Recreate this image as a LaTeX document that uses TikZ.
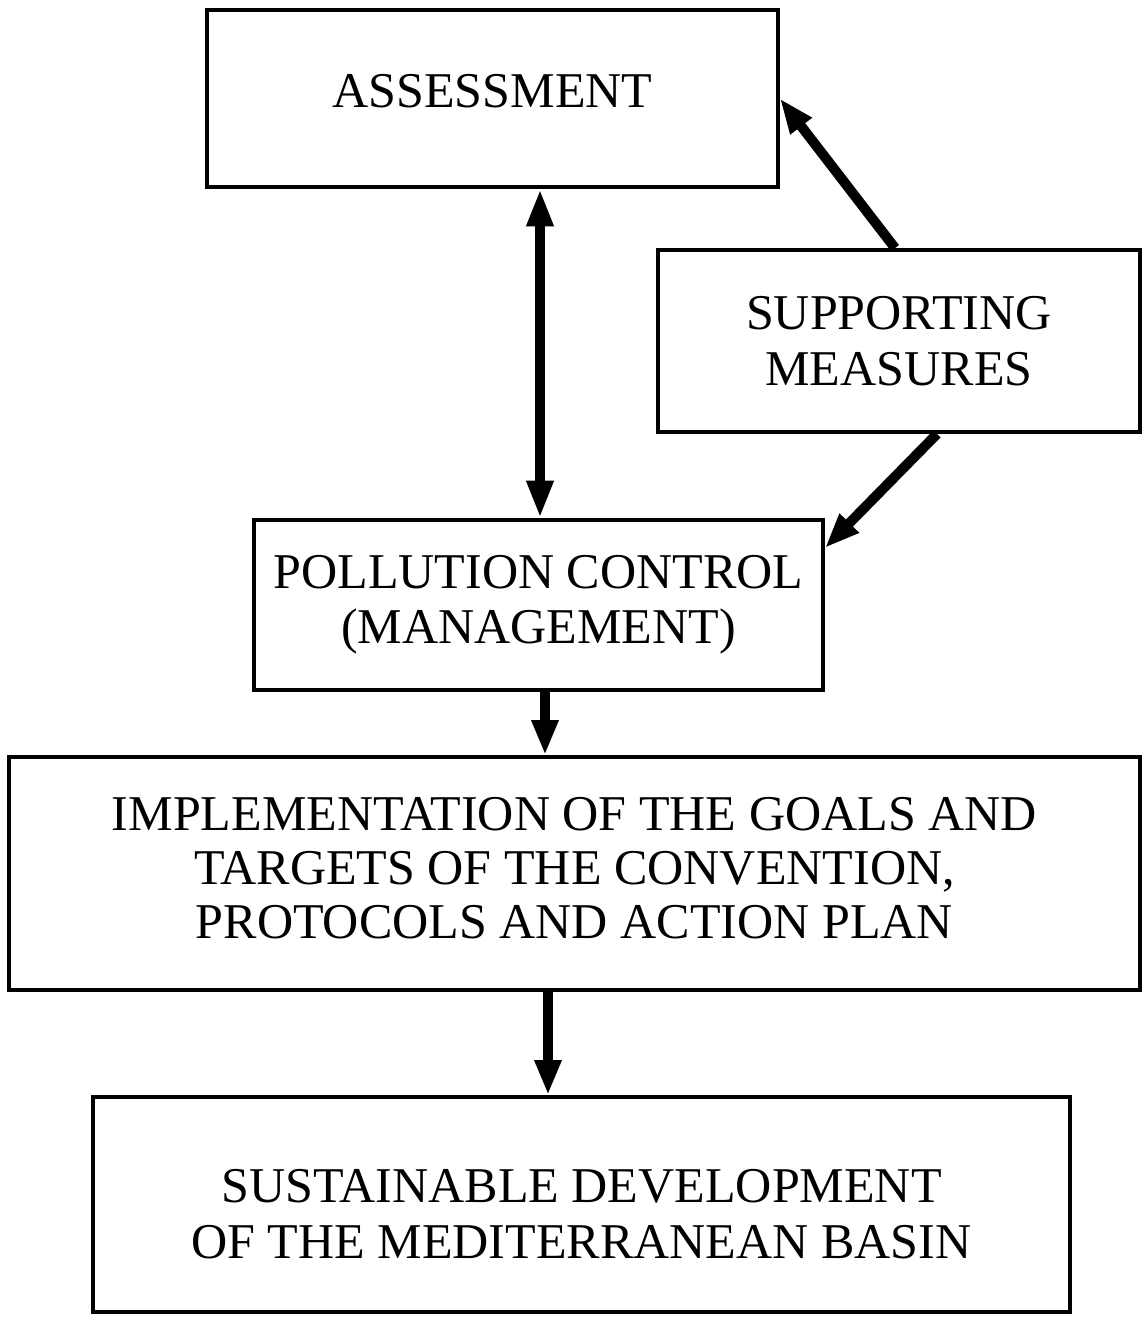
\documentclass[tikz,border=0pt]{standalone}
\usepackage{fontspec}
\setmainfont{Liberation Serif}
\usetikzlibrary{arrows.meta}
\begin{document}
\begin{tikzpicture}[x=0.02cm,y=-0.02cm,
  box/.style={draw, line width=2.2pt, inner sep=0pt, align=center,
    font=\fontsize{28.5}{31.5}\selectfont},
  arr/.style={line width=0.2cm, -{Triangle[length=0.7cm,width=0.5cm]}},
  darr/.style={line width=0.2cm, {Triangle[length=0.75cm,width=0.5cm]}-{Triangle[length=0.75cm,width=0.5cm]}}]
\useasboundingbox (0,0) rectangle (1143,1322);
\node[box, minimum width=11.42cm, minimum height=3.54cm] (assess) at (492.5,98.5) {\raisebox{0.3cm}{ASSESSMENT}};
\node[box, minimum width=9.64cm, minimum height=3.64cm] (supp) at (899,341) {SUPPORTING\\MEASURES};
\node[box, minimum width=11.38cm, minimum height=3.40cm] (poll) at (538.5,605) {POLLUTION CONTROL\\(MANAGEMENT)};
\node[box, minimum width=22.62cm, minimum height=4.66cm] (impl) at (574.5,873.5) {\raisebox{0.2cm}{\begin{tabular}{@{}c@{}}IMPLEMENTATION OF THE GOALS AND\\[-0.9pt]TARGETS OF THE CONVENTION,\\[-0.9pt]PROTOCOLS AND ACTION PLAN\end{tabular}}};
\node[box, minimum width=19.54cm, minimum height=4.30cm] (sust) at (581.5,1204.5) {\raisebox{-0.51cm}[1cm][1cm]{\begin{tabular}{@{}c@{}}SUSTAINABLE DEVELOPMENT\\[0.5pt]OF THE MEDITERRANEAN BASIN\end{tabular}}};
\coordinate (c1) at (540,0);
\coordinate (c2) at (895,0);
\coordinate (c3) at (937,0);
\coordinate (c4) at (0,548);
\coordinate (c5) at (545,0);
\coordinate (c6) at (548,0);
\draw[darr] (assess.south -| c1) -- (poll.north -| c1);
\draw[arr] (supp.north -| c2) -- (assess.east);
\draw[arr] (supp.south -| c3) -- (poll.east |- c4);
\draw[arr] (poll.south -| c5) -- (impl.north -| c5);
\draw[arr] (impl.south -| c6) -- (sust.north -| c6);
\end{tikzpicture}
\end{document}
